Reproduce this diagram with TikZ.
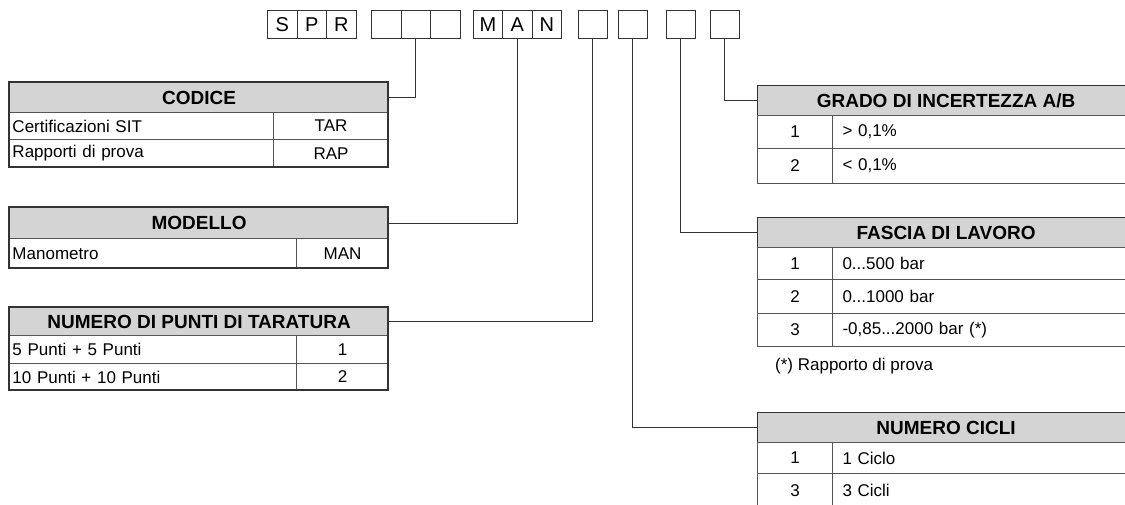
\documentclass[tikz,border=0pt]{standalone}
\usepackage{fontspec}
\setmainfont{Liberation Sans}
\definecolor{linec}{HTML}{333333}
\definecolor{rowc}{HTML}{555555}
\definecolor{hdrfill}{HTML}{D4D4D4}
\begin{document}
\begin{tikzpicture}[x=1pt,y=-1pt,
  box/.style={draw=linec, line width=1.2pt, minimum width=29.5pt, minimum height=28pt, inner sep=0pt, anchor=north west, font=\fontsize{20}{22}\selectfont},
  hdr/.style={draw=linec, line width=1.2pt, fill=hdrfill, inner sep=0pt, anchor=north west, font=\bfseries\fontsize{19}{21}\selectfont},
  cellc/.style={draw=rowc, line width=1pt, inner sep=0pt, anchor=north west, font=\fontsize{17}{19}\selectfont},
  celll/.style={cellc, inner xsep=3pt, align=left},
  cellr/.style={cellc, inner xsep=10pt, align=left},
  conn/.style={draw=linec, line width=1.1pt},
  note/.style={inner sep=0pt, anchor=west, font=\fontsize{17}{19}\selectfont}
]
\clip (0,0) rectangle (1125,504);
\fill[white] (0,0) rectangle (1125,504);

% code boxes
\node[box] (s)  at (267,10) {S};
\node[box] (p)  at (296.5,10) {P};
\node[box] (r)  at (326,10) {R};
\node[box] (g1) at (371,10) {};
\node[box] (g2) at (400.5,10) {};
\node[box] (g3) at (430,10) {};
\node[box] (m)  at (472.5,10) {M};
\node[box] (a)  at (502,10) {A};
\node[box] (n)  at (531.5,10) {N};
\node[box] (c1) at (577.5,10) {};
\node[box] (c2) at (617.5,10) {};
\node[box] (c3) at (665.5,10) {};
\node[box] (c4) at (709.5,10) {};

% CODICE
\node[hdr, minimum width=379pt, minimum height=30pt] (codh) at (9,82) {CODICE};
\node[celll, text width=258pt, minimum height=27pt] (cod1l) at (9,112) {Certificazioni SIT};
\node[cellc, minimum width=115pt, minimum height=27pt] (cod1r) at (273,112) {TAR};
\node[celll, text width=258pt, minimum height=28pt] (cod2l) at (9,139) {Rapporti di prova};
\node[cellc, minimum width=115pt, minimum height=28pt] (cod2r) at (273,139) {RAP};
\draw[draw=linec, line width=1.2pt] (9,82) rectangle (388,167);

% MODELLO
\node[hdr, minimum width=379pt, minimum height=31pt] (modh) at (9,207) {MODELLO};
\node[celll, text width=281pt, minimum height=30pt] (mod1l) at (9,238) {Manometro};
\node[cellc, minimum width=92pt, minimum height=30pt] (mod1r) at (296,238) {MAN};
\draw[draw=linec, line width=1.2pt] (9,207) rectangle (388,268);

% NUMERO DI PUNTI
\node[hdr, minimum width=379pt, minimum height=28pt] (numh) at (9,307) {NUMERO DI PUNTI DI TARATURA};
\node[celll, text width=281pt, minimum height=28pt] (num1l) at (9,335) {5 Punti + 5 Punti};
\node[cellc, minimum width=92pt, minimum height=28pt] (num1r) at (296,335) {1};
\node[celll, text width=281pt, minimum height=27pt] (num2l) at (9,363) {10 Punti + 10 Punti};
\node[cellc, minimum width=92pt, minimum height=27pt] (num2r) at (296,363) {2};
\draw[draw=linec, line width=1.2pt] (9,307) rectangle (388,390);

% GRADO
\node[hdr, minimum width=377pt, minimum height=30pt] (grah) at (757,85) {GRADO DI INCERTEZZA A/B};
\node[cellc, minimum width=75pt, minimum height=33pt] (gra1l) at (757,115) {1};
\node[cellr, text width=282pt, minimum height=33pt] (gra1r) at (832,115) {> 0,1\%};
\node[cellc, minimum width=75pt, minimum height=35pt] (gra2l) at (757,148) {2};
\node[cellr, text width=282pt, minimum height=35pt] (gra2r) at (832,148) {< 0,1\%};

% FASCIA
\node[hdr, minimum width=377pt, minimum height=30pt] (fash) at (757,217) {FASCIA DI LAVORO};
\node[cellc, minimum width=75pt, minimum height=32pt] (fas1l) at (757,247) {1};
\node[cellr, text width=282pt, minimum height=32pt] (fas1r) at (832,247) {0...500 bar};
\node[cellc, minimum width=75pt, minimum height=34pt] (fas2l) at (757,279) {2};
\node[cellr, text width=282pt, minimum height=34pt] (fas2r) at (832,279) {0...1000 bar};
\node[cellc, minimum width=75pt, minimum height=33pt] (fas3l) at (757,313) {3};
\node[cellr, text width=282pt, minimum height=33pt] (fas3r) at (832,313) {-0,85...2000 bar (*)};
\node[note] (fn) at (775,366) {(*) Rapporto di prova};

% NUMERO CICLI
\node[hdr, minimum width=377pt, minimum height=30pt] (cich) at (757,412) {NUMERO CICLI};
\node[cellc, minimum width=75pt, minimum height=31pt] (cic1l) at (757,442) {1};
\node[cellr, text width=282pt, minimum height=31pt] (cic1r) at (832,442) {1 Ciclo};
\node[cellc, minimum width=75pt, minimum height=34pt] (cic2l) at (757,473) {3};
\node[cellr, text width=282pt, minimum height=34pt] (cic2r) at (832,473) {3 Cicli};

% connectors
\draw[conn] (g2.south) |- (codh.east);
\draw[conn] (a.south) |- (modh.east);
\draw[conn] (c1.south) |- (numh.east);
\draw[conn] (c4.south) |- (grah.west);
\draw[conn] (c3.south) |- (fash.west);
\draw[conn] (c2.south) |- (cich.west);
\end{tikzpicture}
\end{document}
